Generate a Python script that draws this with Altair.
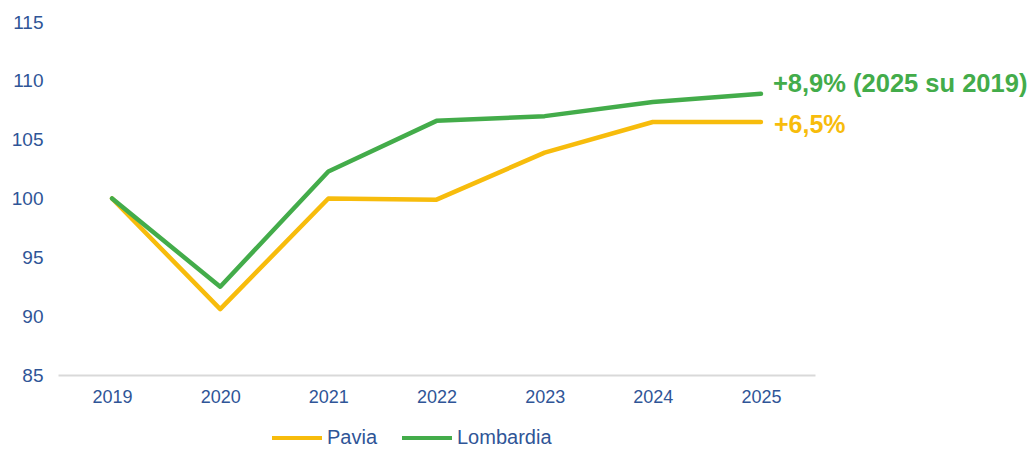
import altair as alt
import pandas as pd

years = ["2019", "2020", "2021", "2022", "2023", "2024", "2025"]
pavia = [100.0, 90.6, 100.0, 99.9, 103.9, 106.5, 106.5]
lombardia = [100.0, 92.5, 102.3, 106.6, 107.0, 108.2, 108.9]
series_names = ["Pavia", "Lombardia"]
series_colors = ["#F7BC0C", "#43AC4A"]
annotations = ["+6,5%", "+8,9% (2025 su 2019)"]

rows = []
for name, vals in zip(series_names, [pavia, lombardia]):
    for i, (y, v) in enumerate(zip(years, vals)):
        rows.append({"year": y, "value": v, "series": name, "order": i})
df = pd.DataFrame(rows)

ann = pd.DataFrame({
    "year": [years[-1], years[-1]],
    "value": [pavia[-1], lombardia[-1]],
    "series": series_names,
    "label": annotations,
})

FONT = "Liberation Sans"
LABEL_COLOR = "#2F5597"

x = alt.X("year:N", sort=years, title=None,
          scale=alt.Scale(paddingInner=0, paddingOuter=0, domain=years),
          axis=alt.Axis(labelAngle=0, labelFontSize=18, labelFont=FONT, labelColor=LABEL_COLOR,
                        ticks=False, domainColor="#D9D9D9", domainWidth=2, labelPadding=13, grid=False))
y = alt.Y("value:Q", title=None,
          scale=alt.Scale(domain=[85, 115], nice=False, zero=False),
          axis=alt.Axis(values=[85, 90, 95, 100, 105, 110, 115], labelFontSize=19, labelFont=FONT,
                        labelColor=LABEL_COLOR, ticks=False, domain=False, grid=False, labelPadding=15))

color = alt.Color("series:N", scale=alt.Scale(domain=series_names, range=series_colors),
                  legend=alt.Legend(title=None, orient="none", legendX=212, legendY=389,
                                    direction="horizontal", symbolType="stroke", symbolSize=2500,
                                    symbolStrokeWidth=4, labelFontSize=20, labelFont=FONT,
                                    labelColor=LABEL_COLOR, labelOffset=3, columnPadding=16))

lines = alt.Chart(df).mark_line(strokeWidth=4.5, strokeJoin="round", strokeCap="round").encode(
    x=x, y=y, color=color, order="order:Q", detail="series:N"
)

txt_p = alt.Chart(ann[ann.series == "Pavia"]).mark_text(
    align="left", baseline="middle", dx=13, dy=3, fontSize=25, fontWeight="bold", font=FONT,
    color=series_colors[0]
).encode(x=alt.X("year:N", sort=years), y="value:Q", text="label:N")

txt_l = alt.Chart(ann[ann.series == "Lombardia"]).mark_text(
    align="left", baseline="middle", dx=12, dy=-10, fontSize=25.5, fontWeight="bold", font=FONT,
    color=series_colors[1]
).encode(x=alt.X("year:N", sort=years), y="value:Q", text="label:N")

chart = alt.layer(lines, txt_p, txt_l).properties(
    width=757, height=353,
    autosize=alt.AutoSizeParams(type="none"),
    padding={"left": 50, "top": 14, "right": 212, "bottom": 75},
).configure_view(stroke=None)

chart.save("out.html", embed_options={"renderer": "svg", "actions": False})
